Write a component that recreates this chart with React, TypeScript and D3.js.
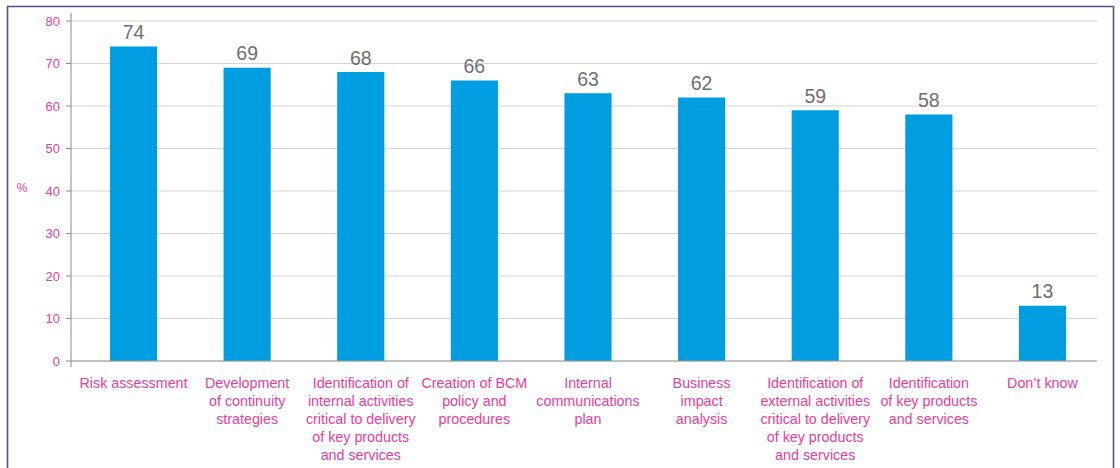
import React from "react";
import * as d3 from "d3";

const categories: string[][] = [
  ["Risk assessment"],
  ["Development", "of continuity", "strategies"],
  ["Identification of", "internal activities", "critical to delivery", "of key products", "and services"],
  ["Creation of BCM", "policy and", "procedures"],
  ["Internal", "communications", "plan"],
  ["Business", "impact", "analysis"],
  ["Identification of", "external activities", "critical to delivery", "of key products", "and services"],
  ["Identification", "of key products", "and services"],
  ["Don\u2019t know"],
];
const values: number[] = [74, 69, 68, 66, 63, 62, 59, 58, 13];
const yTicks: number[] = [0, 10, 20, 30, 40, 50, 60, 70, 80];

const W = 1120;
const H = 468;
const PINK = "#e8409a";
const BLUE = "#009ee0";
const FONT = "Helvetica, Arial, 'Liberation Sans', sans-serif";

export default function App() {
  const left = 71;
  const top = 21;
  const bottom = 361;
  const x = d3
    .scaleBand<number>()
    .domain(d3.range(values.length))
    .range([77, 1099])
    .paddingInner(0.585)
    .paddingOuter(0.29);
  const y = d3.scaleLinear().domain([0, 80]).range([bottom, top]);

  return (
    <svg
      width={W}
      height={H}
      style={{ position: "absolute", left: 0, top: 0, display: "block" }}
      fontFamily={FONT}
    >
      <rect x={0} y={0} width={W} height={H} fill="#fff" />
      {/* frame */}
      <path d={`M7.5,${H + 2} V6.5 H1113.5 V${H + 2}`} fill="none" stroke="#5f4b8b" strokeWidth={1.6} />
      {/* gridlines */}
      {yTicks.map((t) => (
        <line key={"g" + t} x1={left} x2={1097} y1={y(t)} y2={y(t)} stroke="#d4d4d4" strokeWidth={1} />
      ))}
      {/* bars */}
      {values.map((v, i) => (
        <rect key={"b" + i} x={x(i)} y={y(v)} width={x.bandwidth()} height={y(0) - y(v)} fill={BLUE} />
      ))}
      {/* baseline */}
      <line x1={left} x2={1097} y1={y(0)} y2={y(0)} stroke="#9a9a9a" strokeWidth={1.2} />
      {/* y axis */}
      <line x1={left} x2={left} y1={top - 8} y2={y(0) + 6} stroke="#8a8a8a" strokeWidth={1} />
      {yTicks.map((t) => (
        <g key={"t" + t}>
          <line x1={left - 5} x2={left} y1={y(t)} y2={y(t)} stroke="#8a8a8a" strokeWidth={1} />
          <text x={left - 11} y={y(t)} dy="0.35em" textAnchor="end" fontSize={13} fill={PINK}>
            {t}
          </text>
        </g>
      ))}
      <text x={22} y={192} textAnchor="middle" fontSize={12} fill={PINK}>
        %
      </text>
      {/* value labels */}
      {values.map((v, i) => (
        <text
          key={"v" + i}
          x={(x(i) as number) + x.bandwidth() / 2}
          y={y(v) - 7.5}
          textAnchor="middle"
          fontSize={19.5}
          fill="#6e6e6e"
        >
          {v}
        </text>
      ))}
      {/* category labels */}
      {categories.map((lines, i) => (
        <text
          key={"c" + i}
          x={(x(i) as number) + x.bandwidth() / 2}
          y={388}
          textAnchor="middle"
          fontSize={14.3}
          fill={PINK}
        >
          {lines.map((l, j) => (
            <tspan key={j} x={(x(i) as number) + x.bandwidth() / 2} dy={j === 0 ? 0 : 18}>
              {l}
            </tspan>
          ))}
        </text>
      ))}
    </svg>
  );
}
